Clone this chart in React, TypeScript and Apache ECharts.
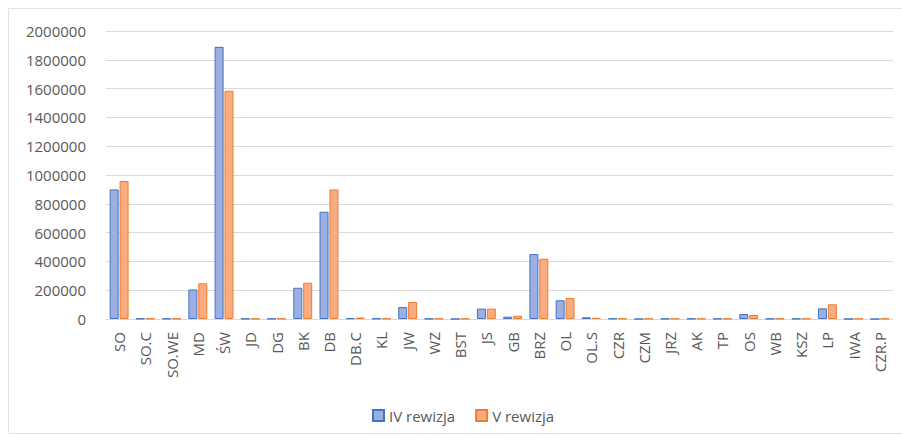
import React, { useEffect, useRef } from "react";
import * as echarts from "echarts";

const categories = ["SO","SO.C","SO.WE","MD","ŚW","JD","DG","BK","DB","DB.C","KL","JW","WZ","BST","JS","GB","BRZ","OL","OL.S","CZR","CZM","JRZ","AK","TP","OS","WB","KSZ","LP","IWA","CZR.P"];
const rev4 = [900000,3000,3000,205000,1890000,2000,2000,217000,745000,5000,3000,83000,2000,0,72000,16000,451000,130000,12000,3000,0,2000,2000,2000,35000,2000,2000,74000,0,0];
const rev5 = [958000,3000,3000,248000,1585000,2000,2000,252000,900000,10000,3000,118000,2000,2000,72000,23000,419000,146000,8000,3000,2000,2000,2000,2000,28000,2000,2000,102000,2000,2000];
const seriesNames = ["IV rewizja", "V rewizja"];
const yTicks = { min: 0, max: 2000000, interval: 200000 };

export default function App() {
  const ref = useRef<HTMLDivElement>(null);
  useEffect(() => {
    if (!ref.current) return;
    const chart = echarts.init(ref.current, null, { renderer: "svg" });
    const font = "'Open Sans', Calibri, sans-serif";
    chart.setOption({
      animation: false,
      backgroundColor: "#ffffff",
      graphic: [
        {
          type: "rect",
          shape: { x: 8.5, y: 8.5, width: 900, height: 425 },
          style: { fill: "none", stroke: "#e3e3e3", lineWidth: 1 },
          silent: true,
        },
      ],
      grid: { left: 106, right: 9, top: 31, bottom: 117 },
      legend: {
        left: 367,
        top: 403,
        icon: "rect",
        itemWidth: 11,
        itemHeight: 11,
        itemGap: 20,
        textStyle: { color: "#595959", fontSize: 15, fontFamily: font },
        data: seriesNames,
      },
      xAxis: {
        type: "category",
        data: categories,
        axisLine: { lineStyle: { color: "#d9d9d9" } },
        axisTick: { show: false },
        axisLabel: {
          rotate: 90,
          interval: 0,
          margin: 13,
          color: "#595959",
          fontSize: 15,
          fontFamily: font,
        },
      },
      yAxis: {
        type: "value",
        min: yTicks.min,
        max: yTicks.max,
        interval: yTicks.interval,
        axisLine: { show: false },
        axisTick: { show: false },
        splitLine: { lineStyle: { color: "#d9d9d9" } },
        axisLabel: {
          color: "#595959",
          fontSize: 15,
          fontFamily: font,
          margin: 20,
          formatter: (v: number) => String(v),
        },
      },
      series: [
        {
          name: seriesNames[0],
          type: "bar",
          data: rev4,
          barWidth: 9,
          barGap: "10%",
          itemStyle: { color: "#9bafe2", borderColor: "#4472c4", borderWidth: 1 },
        },
        {
          name: seriesNames[1],
          type: "bar",
          data: rev5,
          barWidth: 9,
          itemStyle: { color: "#f8ac80", borderColor: "#ed7d31", borderWidth: 1 },
        },
      ],
    });
    return () => chart.dispose();
  }, []);
  return (
    <div
      ref={ref}
      style={{ position: "absolute", left: 0, top: 0, width: 902, height: 436 }}
    />
  );
}
